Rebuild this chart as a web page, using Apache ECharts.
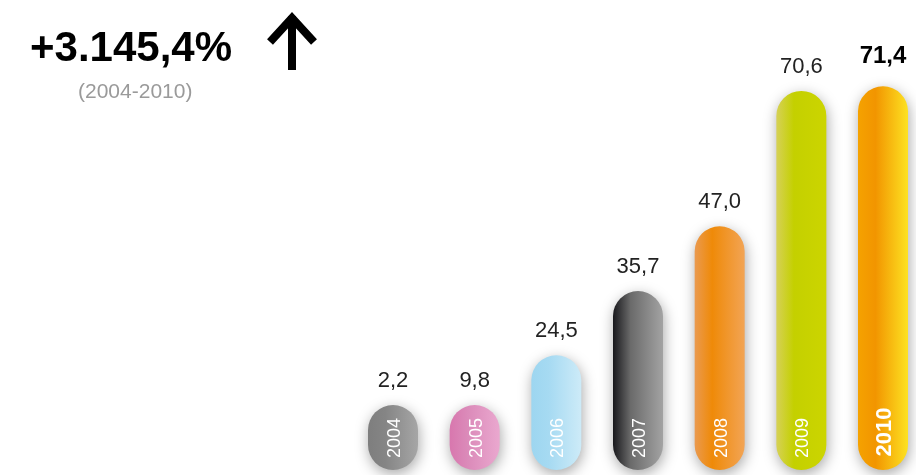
<!DOCTYPE html>
<html>
<head>
<meta charset="utf-8">
<script src="https://cdn.jsdelivr.net/npm/echarts@6/dist/echarts.min.js"></script>
<style>
  html, body { margin: 0; padding: 0; background: #fff; }
  #chart { width: 916px; height: 475px; }
</style>
</head>
<body>
<div id="chart"></div>
<script>
// data
var years = ['2004', '2005', '2006', '2007', '2008', '2009', '2010'];
var values = [2.2, 9.8, 24.5, 35.7, 47.0, 70.6, 71.4];
var valueLabels = ['2,2', '9,8', '24,5', '35,7', '47,0', '70,6', '71,4'];
var growthText = '+3.145,4%';
var periodText = '(2004-2010)';

// bar colours, left -> middle -> right
var palette = [
  ['#7e7e7e', '#858585', '#a6a6a6'],
  ['#d877ae', '#db8ab9', '#eaa8cf'],
  ['#9dd6f0', '#a6daf2', '#cdebf8'],
  ['#18181c', '#6a6a6a', '#a3a3a3'],
  ['#ea9a50', '#ef8a08', '#f2a455'],
  ['#d6d157', '#c4d000', '#ccd500'],
  ['#f5a200', '#f29500', '#fde222']
];

var yMin = 4.5;
var barW = 50;
var minH = 65;

var chartDom = document.getElementById('chart');
var myChart = echarts.init(chartDom);
var option;

function renderBar(params, api) {
  var idx = api.value(0);
  var v = api.value(1);
  var top = api.coord([idx, v]);
  var base = api.coord([idx, yMin]);
  var h = Math.max(minH, base[1] - top[1]);
  var x = top[0] - barW / 2;
  var y = base[1] - h;
  var c = palette[idx];
  var last = idx === years.length - 1;
  return {
    type: 'group',
    children: [
      {
        type: 'rect',
        shape: { x: x, y: y, width: barW, height: h, r: barW / 2 },
        style: {
          fill: new echarts.graphic.LinearGradient(0, 0, 1, 0, [
            { offset: 0, color: c[0] },
            { offset: 0.35, color: c[1] },
            { offset: 1, color: c[2] }
          ]),
          shadowBlur: 14,
          shadowOffsetX: 1,
          shadowOffsetY: 4,
          shadowColor: 'rgba(0,0,0,0.35)'
        }
      },
      {
        type: 'text',
        x: top[0] + 2,
        y: base[1] - (last ? 38 : 32),
        rotation: Math.PI / 2,
        style: {
          text: years[idx],
          fill: '#fff',
          font: (last ? 'bold 22px' : '18px') + ' "Liberation Sans", Arial, sans-serif',
          align: 'center',
          verticalAlign: 'middle'
        }
      },
      {
        type: 'text',
        x: top[0],
        y: y - (last ? 30 : 24),
        style: {
          text: valueLabels[idx],
          fill: last ? '#000' : '#222',
          font: (last ? 'bold 24px' : '22px') + ' "Liberation Sans", Arial, sans-serif',
          align: 'center',
          verticalAlign: 'middle'
        }
      }
    ]
  };
}

option = {
  animation: false,
  grid: { left: 393, right: 33, top: 37, bottom: 5 },
  xAxis: {
    type: 'category',
    data: years,
    boundaryGap: false,
    show: false
  },
  yAxis: {
    type: 'value',
    min: yMin,
    max: 80,
    show: false
  },
  graphic: [
    {
      type: 'text',
      left: 30,
      top: 28,
      style: {
        text: growthText,
        fill: '#000',
        font: 'bold 42px "Liberation Sans", Arial, sans-serif'
      }
    },
    {
      type: 'text',
      left: 78,
      top: 82,
      style: {
        text: periodText,
        fill: '#9a9a9a',
        font: '21px "Liberation Sans", Arial, sans-serif'
      }
    },
    {
      type: 'polyline',
      shape: { points: [[292, 70], [292, 16]] },
      style: { stroke: '#000', lineWidth: 8 }
    },
    {
      type: 'polyline',
      shape: { points: [[270, 42], [292, 18], [314, 42]] },
      style: { stroke: '#000', lineWidth: 8, lineJoin: 'miter', fill: null }
    }
  ],
  series: [
    {
      type: 'custom',
      renderItem: renderBar,
      encode: { x: 0, y: 1 },
      data: values.map(function (v, i) { return [i, v]; })
    }
  ]
};

option && myChart.setOption(option);
</script>
</body>
</html>
